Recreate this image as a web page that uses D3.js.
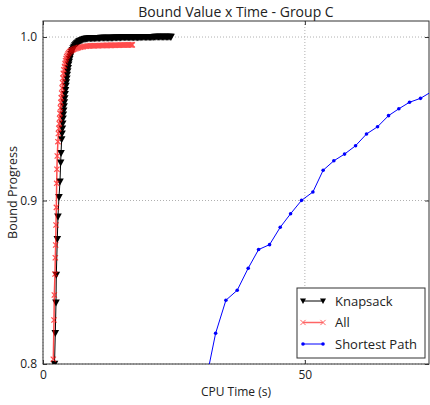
<!DOCTYPE html>
<html>
<head>
<meta charset="utf-8">
<script src="https://cdn.jsdelivr.net/npm/d3@7"></script>
<style>
  html, body { margin: 0; padding: 0; background: #fff; }
  svg { display: block; font-family: "Open Sans", "DejaVu Sans", sans-serif; }
</style>
</head>
<body>
<svg id="chart" width="430" height="405"></svg>
<script>
// Bound progress over CPU time, Group C
const titleText = "Bound Value x Time - Group C";
const xLabel = "CPU Time (s)";
const yLabel = "Bound Progress";
const xTicks = [0, 50];
const yTicks = [0.8, 0.9, 1.0];
const seriesNames = ["Knapsack", "All", "Shortest Path"];

// Knapsack: CPU time (s) and bound value
const knapsackTime = [2.20, 2.35, 2.48, 2.54, 2.73, 2.86, 3.05, 3.24, 3.37, 3.44, 3.56, 3.63, 3.70, 3.76, 3.82, 3.88, 3.95, 4.02, 4.08, 4.15, 4.22, 4.30, 4.38, 4.46, 4.55, 4.63, 4.72, 4.81, 4.90, 5.00, 5.10, 5.22, 5.35, 5.47, 5.60, 5.75, 5.90, 6.07, 6.25, 6.42, 6.60, 6.80, 7.00, 7.20, 7.40, 7.62, 7.85, 8.07, 8.30, 8.55, 8.80,
  9.05, 9.30, 9.55, 9.80, 10.05, 10.3, 10.55, 10.8, 11.05, 11.3, 11.55, 11.8, 12.05, 12.3, 12.55, 12.8, 13.05, 13.3, 13.55, 13.8, 14.05, 14.3, 14.55, 14.8, 15.05, 15.3, 15.55, 15.8, 16.05, 16.3, 16.55, 16.8, 17.05, 17.3, 17.55, 17.8, 18.05, 18.3, 18.55, 18.8, 19.05, 19.3, 19.55, 19.8, 20.05, 20.3, 20.55, 20.8, 21.05, 21.3, 21.55, 21.8, 22.05, 22.3, 22.55, 22.8, 23.05, 23.3, 23.55, 23.8, 24.05, 24.3, 24.45];
const knapsackValue = [0.8000, 0.8188, 0.8375, 0.8544, 0.8763, 0.8901, 0.9020, 0.9115, 0.9231, 0.9289, 0.9374, 0.9408, 0.9440, 0.9470, 0.9500, 0.9525, 0.9550, 0.9575, 0.9600, 0.9625, 0.9650, 0.9675, 0.9700, 0.9722, 0.9745, 0.9768, 0.9790, 0.9810, 0.9830, 0.9848, 0.9865, 0.9880, 0.9895, 0.9908, 0.9920, 0.9930, 0.9940, 0.9948, 0.9955, 0.9961, 0.9966, 0.9971, 0.9975, 0.9978, 0.9981, 0.9984, 0.9986, 0.9988, 0.9989, 0.9990, 0.9991,
  0.9991, 0.9992, 0.9992, 0.9992, 0.9993, 0.9993, 0.9993, 0.9993, 0.9994, 0.9994, 0.9994, 0.9994, 0.9994, 0.9995, 0.9995, 0.9995, 0.9995, 0.9995, 0.9996, 0.9996, 0.9996, 0.9996, 0.9996, 0.9996, 0.9997, 0.9997, 0.9997, 0.9997, 0.9997, 0.9997, 0.9997, 0.9998, 0.9998, 0.9998, 0.9998, 0.9998, 0.9998, 0.9998, 0.9998, 0.9999, 0.9999, 0.9999, 0.9999, 0.9999, 0.9999, 0.9999, 0.9999, 0.9999, 0.9999, 1.0000, 1.0000, 1.0000, 1.0000, 1.0000, 1.0000, 1.0000, 1.0000, 1.0000, 1.0000, 1.0000, 1.0000, 1.0000, 1.0000];

// All constraints: CPU time (s) and bound value
const allTime = [1.97, 2.10, 2.16, 2.29, 2.35, 2.42, 2.48, 2.55, 2.61, 2.66, 2.72, 2.85, 2.93, 3.02, 3.10, 3.17, 3.24, 3.32, 3.40, 3.48, 3.56, 3.64, 3.72, 3.80, 3.88, 3.99, 4.10, 4.20, 4.30, 4.41, 4.52, 4.66, 4.80, 4.95, 5.10, 5.27, 5.45, 5.62, 5.80, 6.05, 6.30, 6.55, 6.80, 7.10, 7.40, 7.70, 8.00, 8.30, 8.60,
  8.85, 9.10, 9.35, 9.60, 9.85, 10.1, 10.35, 10.6, 10.85, 11.1, 11.35, 11.6, 11.85, 12.1, 12.35, 12.6, 12.85, 13.1, 13.35, 13.6, 13.85, 14.1, 14.35, 14.6, 14.85, 15.1, 15.35, 15.6, 15.85, 16.1, 16.35, 16.6, 16.85, 17.05];
const allValue = [0.8029, 0.8269, 0.8422, 0.8550, 0.8650, 0.8728, 0.8850, 0.8958, 0.9105, 0.9191, 0.9272, 0.9360, 0.9410, 0.9441, 0.9470, 0.9502, 0.9533, 0.9567, 0.9600, 0.9628, 0.9656, 0.9688, 0.9720, 0.9749, 0.9778, 0.9800, 0.9820, 0.9838, 0.9855, 0.9868, 0.9880, 0.9889, 0.9898, 0.9904, 0.9910, 0.9914, 0.9918, 0.9921, 0.9924, 0.9927, 0.9930, 0.9933, 0.9935, 0.9937, 0.9939, 0.9941, 0.9943, 0.9944, 0.9945,
  0.9945, 0.9946, 0.9946, 0.9946, 0.9947, 0.9947, 0.9947, 0.9947, 0.9948, 0.9948, 0.9948, 0.9948, 0.9948, 0.9949, 0.9949, 0.9949, 0.9949, 0.9949, 0.9950, 0.9950, 0.9950, 0.9950, 0.9950, 0.9950, 0.9951, 0.9951, 0.9951, 0.9951, 0.9951, 0.9951, 0.9952, 0.9952, 0.9952, 0.9952];

// Shortest Path: CPU time (s) and bound value
const spTime = [31.0, 32.96, 34.92, 37.08, 39.18, 41.16, 43.26, 45.29, 47.27, 49.37, 51.53, 53.49, 55.53, 57.58, 59.68, 61.77, 63.87, 65.97, 67.94, 69.98, 72.08, 74.15];
const spValue = [0.7880, 0.8188, 0.8390, 0.8451, 0.8586, 0.8700, 0.8730, 0.8836, 0.8919, 0.9001, 0.9052, 0.9185, 0.9243, 0.9284, 0.9335, 0.9407, 0.9451, 0.9519, 0.9561, 0.9601, 0.9625, 0.9665];

const svg = d3.select("#chart");
const margin = { left: 43, top: 21, right: 1, bottom: 41 };
const W = 430, H = 405;
const plotW = W - margin.left - margin.right;
const plotH = H - margin.top - margin.bottom;

const x = d3.scaleLinear().domain([0, 73.7]).range([margin.left, margin.left + plotW]);
const y = d3.scaleLinear().domain([0.8, 1.0098]).range([margin.top + plotH, margin.top]);

svg.append("defs").append("clipPath").attr("id", "plotclip")
  .append("rect").attr("x", margin.left).attr("y", margin.top).attr("width", plotW).attr("height", plotH);

// Dotted grid
const grid = svg.append("g").attr("stroke", "#b0b0b0").attr("stroke-dasharray", "1,2").attr("stroke-width", 1);
xTicks.forEach(t => grid.append("line").attr("x1", x(t)).attr("x2", x(t)).attr("y1", margin.top).attr("y2", margin.top + plotH));
yTicks.forEach(t => grid.append("line").attr("x1", margin.left).attr("x2", margin.left + plotW).attr("y1", y(t)).attr("y2", y(t)));

// Axes with inward ticks on all four sides
const fontTick = 12;
const axB = svg.append("g").attr("transform", `translate(0,${margin.top + plotH})`)
  .call(d3.axisBottom(x).tickValues(xTicks).tickSizeInner(-4).tickSizeOuter(0).tickPadding(6).tickFormat(d3.format("d")));
const axT = svg.append("g").attr("transform", `translate(0,${margin.top})`)
  .call(d3.axisTop(x).tickValues(xTicks).tickSizeInner(-4).tickSizeOuter(0).tickFormat(""));
const axL = svg.append("g").attr("transform", `translate(${margin.left},0)`)
  .call(d3.axisLeft(y).tickValues(yTicks).tickSizeInner(-4).tickSizeOuter(0).tickPadding(6).tickFormat(d3.format(".1f")));
const axR = svg.append("g").attr("transform", `translate(${margin.left + plotW},0)`)
  .call(d3.axisRight(y).tickValues(yTicks).tickSizeInner(-4).tickSizeOuter(0).tickFormat(""));
[axB, axT, axL, axR].forEach(a => {
  a.select(".domain").remove();
  a.selectAll("line").attr("stroke", "#333");
  a.selectAll("text").attr("font-size", fontTick).attr("fill", "#222").attr("font-family", "'Open Sans', sans-serif");
});

// Frame
svg.append("rect").attr("x", margin.left).attr("y", margin.top).attr("width", plotW).attr("height", plotH)
  .attr("fill", "none").attr("stroke", "#333").attr("stroke-width", 1);

const plot = svg.append("g").attr("clip-path", "url(#plotclip)");
const line = d3.line().x(d => x(d[0])).y(d => y(d[1]));

// Shortest Path
const spData = d3.zip(spTime, spValue);
plot.append("path").datum(spData).attr("d", line).attr("fill", "none").attr("stroke", "#0000ff").attr("stroke-width", 1);
plot.selectAll(".sp").data(spData).join("circle").attr("class", "sp")
  .attr("cx", d => x(d[0])).attr("cy", d => y(d[1])).attr("r", 1.8).attr("fill", "#0000ff");

// Knapsack
const kData = d3.zip(knapsackTime, knapsackValue);
const triDown = "M-3.8,-3.2L3.8,-3.2L0,3.8Z";
plot.append("path").datum(kData).attr("d", line).attr("fill", "none").attr("stroke", "#000").attr("stroke-width", 1);
plot.selectAll(".kn").data(kData).join("path").attr("class", "kn")
  .attr("transform", d => `translate(${x(d[0])},${y(d[1])})`).attr("d", triDown).attr("fill", "#000");

// All
const aData = d3.zip(allTime, allValue);
const xMark = "M-2.6,-2.6L2.6,2.6M-2.6,2.6L2.6,-2.6";
const allG = plot.append("g").attr("opacity", 0.7);
allG.append("path").datum(aData).attr("d", line).attr("fill", "none").attr("stroke", "#ff0000").attr("stroke-width", 1.5);
allG.selectAll(".al").data(aData).join("path").attr("class", "al")
  .attr("transform", d => `translate(${x(d[0])},${y(d[1])})`).attr("d", xMark)
  .attr("fill", "none").attr("stroke", "#ff0000").attr("stroke-width", 1.2);

// Title and axis labels
svg.append("text").attr("x", margin.left + plotW / 2).attr("y", 17).attr("text-anchor", "middle")
  .attr("font-size", 14).attr("fill", "#222").text(titleText);
svg.append("text").attr("x", margin.left + plotW / 2).attr("y", 396).attr("text-anchor", "middle")
  .attr("font-size", 12).attr("fill", "#222").text(xLabel);
svg.append("text").attr("transform", `translate(17,${margin.top + plotH / 2}) rotate(-90)`).attr("text-anchor", "middle")
  .attr("font-size", 12.5).attr("fill", "#222").text(yLabel);

// Legend
const lg = svg.append("g");
lg.append("rect").attr("x", 297).attr("y", 288).attr("width", 128).attr("height", 70)
  .attr("fill", "#fff").attr("stroke", "#333").attr("stroke-width", 1);
const rows = [301, 322.5, 344];
const lx1 = 303, lx2 = 323;
// Knapsack entry
lg.append("line").attr("x1", lx1).attr("x2", lx2).attr("y1", rows[0]).attr("y2", rows[0]).attr("stroke", "#000");
[lx1, lx2].forEach(px => lg.append("path").attr("transform", `translate(${px},${rows[0]})`).attr("d", "M-3,-2.6L3,-2.6L0,3Z").attr("fill", "#000"));
// All entry
const la = lg.append("g").attr("opacity", 0.6);
la.append("line").attr("x1", lx1).attr("x2", lx2).attr("y1", rows[1]).attr("y2", rows[1]).attr("stroke", "#ff0000").attr("stroke-width", 1.5);
[lx1, lx2].forEach(px => la.append("path").attr("transform", `translate(${px},${rows[1]})`).attr("d", xMark).attr("fill", "none").attr("stroke", "#ff0000"));
// Shortest Path entry
lg.append("line").attr("x1", lx1).attr("x2", lx2).attr("y1", rows[2]).attr("y2", rows[2]).attr("stroke", "#0000ff");
[lx1, lx2].forEach(px => lg.append("circle").attr("cx", px).attr("cy", rows[2]).attr("r", 1.8).attr("fill", "#0000ff"));
seriesNames.forEach((n, i) => lg.append("text").attr("x", 335).attr("y", rows[i]).attr("dy", "0.35em")
  .attr("font-size", 13).attr("fill", "#222").text(n));
</script>
</body>
</html>
